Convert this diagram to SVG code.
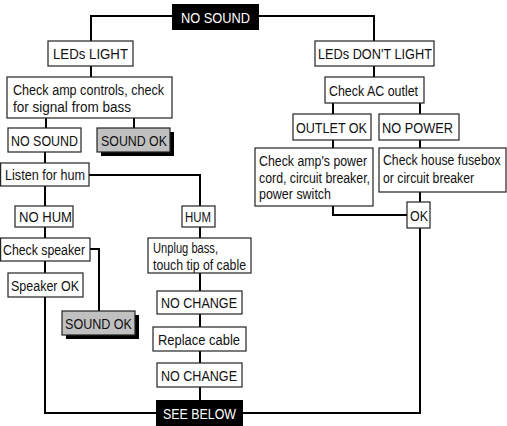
<svg xmlns="http://www.w3.org/2000/svg" width="507" height="426" viewBox="0 0 507 426">
<style>
.b{fill:#fff;stroke:#222;stroke-width:1.2}
.k{fill:#000}
.g{fill:#c0c0c0;stroke:#222;stroke-width:1.2}
.s{fill:#000}
text{font-family:"Liberation Sans",Arial,sans-serif;font-size:15.5px;fill:#111}
.w{fill:#fff}
.c{fill:none;stroke:#000;stroke-width:2}
</style>
<rect width="507" height="426" fill="#fff"/>
<g id="connectors">
<path class="c" d="M172 16H91V41M259 16H374V41"/>
<path class="c" d="M91 66V77"/>
<path class="c" d="M46 118V128M134 118V128"/>
<path class="c" d="M45 152V163"/>
<path class="c" d="M89 175H200V206"/>
<path class="c" d="M45 186V206M45 227V238"/>
<path class="c" d="M90 249H99V311"/>
<path class="c" d="M45 261V273M45 297V413H156M243 413H420V228"/>
<path class="c" d="M200 227V238M200 273V291M200 314V327M200 351V363M200 387V400"/>
<path class="c" d="M374 66V77M333 103V114M420 103V114M333 140V148M420 140V148M420 192V202M333 206V215H407"/>
</g>
<g id="n_nosound_top"><rect class="k" x="172" y="4" width="87" height="26"/><text class="w" x="181" y="22.5" textLength="69" lengthAdjust="spacingAndGlyphs">NO SOUND</text></g>
<g id="n_leds_light"><rect class="b" x="48" y="41" width="85" height="25"/><text x="53" y="59" textLength="75" lengthAdjust="spacingAndGlyphs">LEDs LIGHT</text></g>
<g id="n_check_amp"><rect class="b" x="7" y="77" width="165" height="41"/><text x="13" y="95" textLength="151" lengthAdjust="spacingAndGlyphs">Check amp controls, check</text><text x="13" y="111.5" textLength="118" lengthAdjust="spacingAndGlyphs">for signal from bass</text></g>
<g id="n_nosound_left"><rect class="b" x="8" y="128" width="73" height="24"/><text x="11" y="146" textLength="67" lengthAdjust="spacingAndGlyphs">NO SOUND</text></g>
<g id="n_soundok_1"><rect class="s" x="101" y="132" width="73" height="24"/><rect class="g" x="97" y="128" width="73" height="24"/><text x="101" y="146" textLength="66" lengthAdjust="spacingAndGlyphs">SOUND OK</text></g>
<g id="n_listen"><rect class="b" x="0.6" y="163" width="88.4" height="23"/><text x="5" y="180" textLength="80" lengthAdjust="spacingAndGlyphs">Listen for hum</text></g>
<g id="n_nohum"><rect class="b" x="15" y="206" width="58" height="21"/><text x="19" y="222" textLength="53" lengthAdjust="spacingAndGlyphs">NO HUM</text></g>
<g id="n_hum"><rect class="b" x="182" y="206" width="33" height="21"/><text x="185" y="222" textLength="26" lengthAdjust="spacingAndGlyphs">HUM</text></g>
<g id="n_check_speaker"><rect class="b" x="0.6" y="238" width="89.4" height="23"/><text x="3" y="255" textLength="82" lengthAdjust="spacingAndGlyphs">Check speaker</text></g>
<g id="n_unplug"><rect class="b" x="148" y="238" width="103" height="35"/><text x="153" y="253" textLength="65" lengthAdjust="spacingAndGlyphs">Unplug bass,</text><text x="153" y="269.5" textLength="93" lengthAdjust="spacingAndGlyphs">touch tip of cable</text></g>
<g id="n_speaker_ok"><rect class="b" x="8" y="273" width="75" height="24"/><text x="11" y="291" textLength="68" lengthAdjust="spacingAndGlyphs">Speaker OK</text></g>
<g id="n_soundok_2"><rect class="s" x="66" y="315" width="73" height="24"/><rect class="g" x="62" y="311" width="73" height="24"/><text x="65" y="329" textLength="67" lengthAdjust="spacingAndGlyphs">SOUND OK</text></g>
<g id="n_nochange_1"><rect class="b" x="157" y="291" width="85" height="23"/><text x="161" y="308" textLength="76" lengthAdjust="spacingAndGlyphs">NO CHANGE</text></g>
<g id="n_replace"><rect class="b" x="153" y="327" width="93" height="24"/><text x="158" y="345" textLength="82" lengthAdjust="spacingAndGlyphs">Replace cable</text></g>
<g id="n_nochange_2"><rect class="b" x="157" y="363" width="85" height="24"/><text x="161" y="381" textLength="76" lengthAdjust="spacingAndGlyphs">NO CHANGE</text></g>
<g id="n_see_below"><rect class="k" x="156" y="400" width="87" height="26"/><text class="w" x="163" y="419" textLength="73" lengthAdjust="spacingAndGlyphs">SEE BELOW</text></g>
<g id="n_leds_dont"><rect class="b" x="315" y="41" width="119" height="25"/><text x="318" y="59" textLength="114" lengthAdjust="spacingAndGlyphs">LEDs DON'T LIGHT</text></g>
<g id="n_check_ac"><rect class="b" x="325" y="77" width="99" height="26"/><text x="329" y="95.5" textLength="89" lengthAdjust="spacingAndGlyphs">Check AC outlet</text></g>
<g id="n_outlet_ok"><rect class="b" x="293" y="114" width="78" height="26"/><text x="296" y="132.5" textLength="71" lengthAdjust="spacingAndGlyphs">OUTLET OK</text></g>
<g id="n_no_power"><rect class="b" x="379" y="114" width="80" height="26"/><text x="382" y="132.5" textLength="71" lengthAdjust="spacingAndGlyphs">NO POWER</text></g>
<g id="n_check_power"><rect class="b" x="255" y="148" width="118" height="58"/><text x="259" y="166" textLength="108" lengthAdjust="spacingAndGlyphs">Check amp's power</text><text x="259" y="182.5" textLength="111" lengthAdjust="spacingAndGlyphs">cord, circuit breaker,</text><text x="259" y="199" textLength="72" lengthAdjust="spacingAndGlyphs">power switch</text></g>
<g id="n_check_house"><rect class="b" x="379" y="148" width="127" height="44"/><text transform="translate(383 165) scale(0.79 1)">Check house fusebox</text><text transform="translate(383 183) scale(0.79 1)">or circuit breaker</text></g>
<g id="n_ok"><rect class="b" x="407" y="202" width="23" height="26"/><text x="410" y="220.5" textLength="18" lengthAdjust="spacingAndGlyphs">OK</text></g>
</svg>
